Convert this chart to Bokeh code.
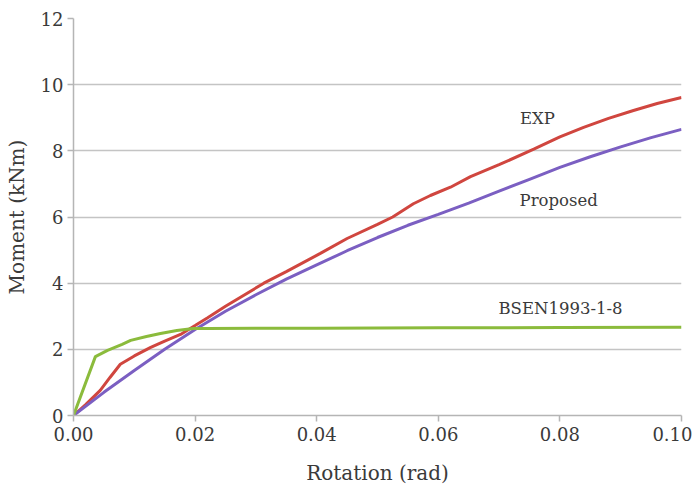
from bokeh.plotting import figure
from bokeh.models import Range1d, FixedTicker, NumeralTickFormatter, ColumnDataSource
from bokeh.embed import file_html
from bokeh.resources import INLINE
from bokeh.core.properties import value

# Moment-rotation curves (rotation in rad, moment in kNm)
exp_rot = [0.0, 0.002, 0.0044, 0.006, 0.0077, 0.010, 0.0127, 0.015, 0.0176, 0.020,
           0.022, 0.025, 0.0313, 0.035, 0.0406, 0.045, 0.050, 0.0525, 0.0559, 0.0587,
           0.062, 0.0653, 0.070, 0.0757, 0.080, 0.0839, 0.088, 0.0921, 0.096, 0.100]
exp_mom = [0.0, 0.33, 0.76, 1.15, 1.55, 1.80, 2.06, 2.25, 2.45, 2.72,
           2.95, 3.30, 4.00, 4.35, 4.90, 5.35, 5.78, 6.00, 6.40, 6.65,
           6.90, 7.22, 7.58, 8.05, 8.42, 8.71, 8.98, 9.22, 9.43, 9.61]

prop_rot = [0.0, 0.005, 0.010, 0.015, 0.020, 0.025, 0.030, 0.035, 0.040, 0.045,
            0.050, 0.055, 0.060, 0.065, 0.070, 0.075, 0.080, 0.085, 0.090, 0.095, 0.100]
prop_mom = [0.0, 0.70, 1.36, 2.00, 2.60, 3.15, 3.65, 4.12, 4.55, 4.98,
            5.38, 5.75, 6.08, 6.42, 6.78, 7.14, 7.50, 7.82, 8.12, 8.40, 8.65]

bsen_rot = [0.0, 0.0036, 0.0056, 0.008, 0.0094, 0.012, 0.0143, 0.017, 0.0197,
            0.022, 0.040, 0.060, 0.080, 0.100]
bsen_mom = [0.0, 1.78, 1.97, 2.15, 2.27, 2.39, 2.48, 2.57, 2.63,
            2.63, 2.64, 2.65, 2.66, 2.67]

x_ticks = [0.0, 0.02, 0.04, 0.06, 0.08, 0.10]
y_ticks = [0, 2, 4, 6, 8, 10, 12]

curve_labels = ["EXP", "Proposed", "BSEN1993-1-8"]
label_x = [0.0763, 0.0798, 0.0801]
label_y = [8.98, 6.50, 3.23]

FONT = "DejaVu Serif"
TEXT = "#3a3a3a"

p = figure(width=692, height=489, output_backend="svg", toolbar_location=None,
           x_range=Range1d(0, 0.1), y_range=Range1d(0, 12),
           min_border_left=73, min_border_right=11, min_border_top=18, min_border_bottom=74)
p.outline_line_color = None
p.background_fill_color = "white"

p.line(exp_rot, exp_mom, line_color="#d0463f", line_width=3)
p.line(prop_rot, prop_mom, line_color="#7b5fc2", line_width=3)
p.line(bsen_rot, bsen_mom, line_color="#8bbb3c", line_width=3)

src = ColumnDataSource(dict(x=label_x, y=label_y, t=curve_labels))
p.text(x="x", y="y", text="t", source=src, text_font=value(FONT), text_font_size="16.5px",
       text_color=TEXT, text_align="center", text_baseline="middle")

p.xaxis.ticker = FixedTicker(ticks=x_ticks)
p.yaxis.ticker = FixedTicker(ticks=y_ticks)
p.xaxis.formatter = NumeralTickFormatter(format="0.00")
p.xgrid.grid_line_color = None
p.ygrid.grid_line_color = "#c4c4c4"
p.ygrid.grid_line_width = 1.5
p.ygrid.ticker = FixedTicker(ticks=y_ticks)

for ax in (p.xaxis, p.yaxis):
    ax.axis_line_color = "#b5b5b5"
    ax.axis_line_width = 1.5
    ax.major_tick_line_color = "#b5b5b5"
    ax.major_tick_line_width = 1.5
    ax.major_tick_in = 0
    ax.major_tick_out = 6
    ax.minor_tick_line_color = None
    ax.major_label_text_font = FONT
    ax.major_label_text_font_size = "18px"
    ax.major_label_text_color = TEXT
    ax.axis_label_text_font = FONT
    ax.axis_label_text_font_style = "normal"
    ax.axis_label_text_color = TEXT

p.xaxis.axis_label = "Rotation (rad)"
p.yaxis.axis_label = "Moment (kNm)"
p.xaxis.axis_label_text_font_size = "20px"
p.yaxis.axis_label_text_font_size = "20px"
p.xaxis.major_label_standoff = 5
p.xaxis.axis_label_standoff = 17
p.yaxis.major_label_standoff = 4
p.yaxis.axis_label_standoff = 9

open("out.html", "w").write(file_html(p, INLINE))
